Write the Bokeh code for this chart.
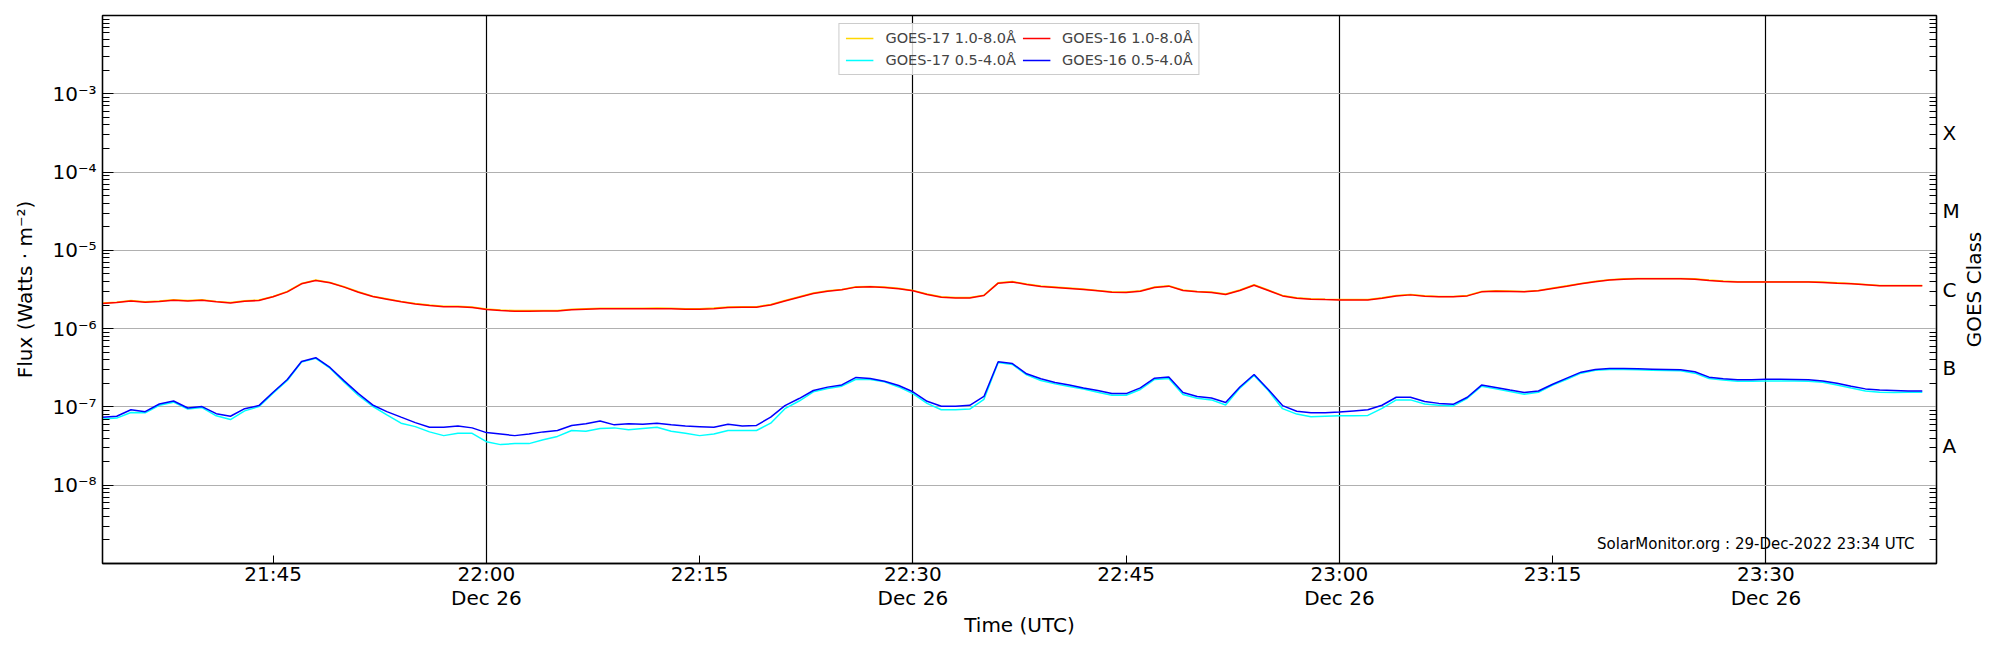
import numpy as np
import pandas as pd
from bokeh.plotting import figure
from bokeh.layouts import row
from bokeh.models import (ColumnDataSource, Range1d, FixedTicker, LogAxis, Legend,
                          LegendItem, Label)
from bokeh.embed import file_html
from bokeh.resources import INLINE

# ---------------- data (1-minute GOES XRS averages, 26 Dec 2022) ----------------
times = pd.date_range("2022-12-26 21:33", periods=129, freq="min")

# GOES-17 1.0-8.0 A  (units of 1e-6 W m^-2)
g17_long = [2.12, 2.18, 2.29, 2.21, 2.25, 2.34, 2.29, 2.34, 2.23, 2.16, 2.27, 2.32, 2.58, 2.99, 3.78, 4.17, 3.89, 3.43, 2.96, 2.60, 2.41, 2.23, 2.10, 2.00, 1.93, 1.93, 1.89, 1.78, 1.73, 1.70, 1.70, 1.71, 1.71,
            1.77, 1.80, 1.82, 1.82, 1.82, 1.82, 1.83, 1.82, 1.80, 1.80, 1.83, 1.89, 1.91, 1.91, 2.04, 2.29, 2.55, 2.85, 3.05, 3.17, 3.43, 3.46, 3.40, 3.27, 3.08, 2.77, 2.55, 2.50, 2.50, 2.68, 3.85, 3.99,
            3.71, 3.50, 3.40, 3.30, 3.20, 3.08, 2.96, 2.93, 3.05, 3.40, 3.53, 3.11, 2.99, 2.93, 2.77, 3.11, 3.63, 3.11, 2.66, 2.48, 2.41, 2.38, 2.36, 2.36, 2.36, 2.48, 2.66, 2.74, 2.64, 2.58, 2.58,
            2.66, 2.99, 3.05, 3.02, 2.99, 3.08, 3.30, 3.53, 3.78, 4.02, 4.22, 4.34, 4.38, 4.38, 4.38, 4.38, 4.34, 4.18, 4.06, 3.98, 3.98, 3.98, 3.98, 3.98, 3.98, 3.94, 3.86, 3.78, 3.67, 3.56, 3.56, 3.56, 3.56]

# GOES-17 0.5-4.0 A  (units of 1e-7 W m^-2)
g17_short = [0.70, 0.72, 0.85, 0.84, 1.05, 1.15, 0.94, 0.98, 0.77, 0.69, 0.89, 1.01, 1.50, 2.18, 3.74, 4.17, 3.13, 2.07, 1.40, 1.02, 0.79, 0.62, 0.56, 0.48, 0.43, 0.46, 0.46, 0.36, 0.33, 0.34, 0.34, 0.38, 0.42,
             0.50, 0.49, 0.53, 0.54, 0.51, 0.53, 0.55, 0.49, 0.46, 0.43, 0.45, 0.50, 0.50, 0.50, 0.62, 0.95, 1.19, 1.56, 1.72, 1.84, 2.26, 2.24, 2.09, 1.80, 1.48, 1.11, 0.92, 0.92, 0.94, 1.25, 3.70, 3.49,
             2.57, 2.18, 1.97, 1.82, 1.69, 1.54, 1.41, 1.41, 1.67, 2.24, 2.31, 1.44, 1.29, 1.23, 1.06, 1.74, 2.52, 1.62, 0.95, 0.81, 0.75, 0.76, 0.77, 0.77, 0.78, 0.96, 1.23, 1.23, 1.09, 1.05, 1.03,
             1.29, 1.84, 1.70, 1.57, 1.45, 1.54, 1.90, 2.26, 2.70, 2.95, 3.01, 3.01, 2.98, 2.95, 2.92, 2.89, 2.70, 2.31, 2.20, 2.13, 2.13, 2.15, 2.15, 2.15, 2.13, 2.07, 1.91, 1.74, 1.60, 1.54, 1.53, 1.54, 1.54]

# GOES-16 1.0-8.0 A  (units of 1e-6 W m^-2)
g16_long = [2.09, 2.15, 2.26, 2.18, 2.22, 2.31, 2.26, 2.31, 2.20, 2.13, 2.24, 2.29, 2.55, 2.95, 3.74, 4.13, 3.85, 3.39, 2.92, 2.57, 2.38, 2.20, 2.07, 1.97, 1.90, 1.90, 1.86, 1.75, 1.70, 1.67, 1.67, 1.68, 1.68,
            1.74, 1.77, 1.79, 1.79, 1.79, 1.79, 1.80, 1.79, 1.77, 1.77, 1.80, 1.86, 1.88, 1.88, 2.01, 2.26, 2.52, 2.81, 3.01, 3.13, 3.39, 3.42, 3.36, 3.23, 3.04, 2.73, 2.52, 2.47, 2.47, 2.65, 3.81, 3.95,
            3.67, 3.46, 3.36, 3.26, 3.16, 3.04, 2.92, 2.89, 3.01, 3.36, 3.49, 3.07, 2.95, 2.89, 2.73, 3.07, 3.59, 3.07, 2.62, 2.45, 2.38, 2.35, 2.33, 2.33, 2.33, 2.45, 2.62, 2.70, 2.60, 2.55, 2.55,
            2.62, 2.95, 3.01, 2.98, 2.95, 3.04, 3.26, 3.49, 3.74, 3.97, 4.17, 4.29, 4.33, 4.33, 4.33, 4.33, 4.29, 4.13, 4.01, 3.93, 3.93, 3.93, 3.93, 3.93, 3.93, 3.89, 3.81, 3.74, 3.63, 3.52, 3.52, 3.52, 3.52]

# GOES-16 0.5-4.0 A  (units of 1e-7 W m^-2)
g16_short = [0.74, 0.76, 0.92, 0.87, 1.09, 1.19, 0.97, 1.01, 0.82, 0.76, 0.95, 1.04, 1.54, 2.24, 3.81, 4.25, 3.19, 2.15, 1.48, 1.06, 0.87, 0.74, 0.63, 0.55, 0.55, 0.57, 0.54, 0.47, 0.45, 0.43, 0.45, 0.48, 0.50,
             0.58, 0.61, 0.66, 0.59, 0.61, 0.60, 0.62, 0.59, 0.57, 0.56, 0.55, 0.60, 0.57, 0.58, 0.74, 1.04, 1.28, 1.62, 1.79, 1.91, 2.38, 2.31, 2.13, 1.88, 1.56, 1.18, 1.02, 1.02, 1.05, 1.36, 3.78, 3.58,
             2.65, 2.29, 2.05, 1.90, 1.75, 1.62, 1.48, 1.48, 1.75, 2.33, 2.42, 1.53, 1.36, 1.30, 1.14, 1.80, 2.60, 1.67, 1.04, 0.88, 0.84, 0.84, 0.86, 0.89, 0.92, 1.05, 1.33, 1.33, 1.17, 1.11, 1.08,
             1.33, 1.90, 1.77, 1.64, 1.53, 1.60, 1.95, 2.33, 2.78, 3.01, 3.10, 3.10, 3.07, 3.04, 3.01, 2.98, 2.81, 2.40, 2.29, 2.22, 2.22, 2.26, 2.26, 2.24, 2.22, 2.15, 2.01, 1.84, 1.70, 1.64, 1.62, 1.60, 1.60]

series_labels = ["GOES-17 1.0-8.0Å", "GOES-17 0.5-4.0Å", "GOES-16 1.0-8.0Å", "GOES-16 0.5-4.0Å"]
series_colors = ["gold", "cyan", "red", "blue"]

flux_ticks = [1e-8, 1e-7, 1e-6, 1e-5, 1e-4, 1e-3]
flux_tick_labels = ["10⁻⁸", "10⁻⁷", "10⁻⁶", "10⁻⁵", "10⁻⁴", "10⁻³"]
grid_decades = [1e-9, 1e-8, 1e-7, 1e-6, 1e-5, 1e-4, 1e-3, 1e-2]
class_ticks = [10 ** -7.5, 10 ** -6.5, 10 ** -5.5, 10 ** -4.5, 10 ** -3.5]
class_labels = ["A", "B", "C", "M", "X"]

time_ticks = ["2022-12-26 21:45", "2022-12-26 22:00", "2022-12-26 22:15", "2022-12-26 22:30",
              "2022-12-26 22:45", "2022-12-26 23:00", "2022-12-26 23:15", "2022-12-26 23:30"]
time_tick_labels = ["21:45", "22:00\nDec 26", "22:15", "22:30\nDec 26",
                    "22:45", "23:00\nDec 26", "23:15", "23:30\nDec 26"]
time_grid = ["2022-12-26 22:00", "2022-12-26 22:30", "2022-12-26 23:00", "2022-12-26 23:30"]

FONT = "DejaVu Sans"
FRAME_H = 548
TOP = 15
BOTTOM = 68

# ---------------- main figure ----------------
src = ColumnDataSource(dict(
    t=times,
    g17_long=np.array(g17_long) * 1e-6,
    g17_short=np.array(g17_short) * 1e-7,
    g16_long=np.array(g16_long) * 1e-6,
    g16_short=np.array(g16_short) * 1e-7,
))

p = figure(frame_width=1834, frame_height=FRAME_H,
           x_axis_type="datetime", y_axis_type="log",
           x_range=Range1d(pd.Timestamp("2022-12-26 21:33"), pd.Timestamp("2022-12-26 23:42")),
           y_range=Range1d(1e-9, 1e-2),
           output_backend="svg", toolbar_location=None,
           min_border_left=102, min_border_right=26, min_border_top=TOP, min_border_bottom=BOTTOM,
           background_fill_color="white", border_fill_color="white")

p.outline_line_color = "black"
p.outline_line_width = 1.3
p.outline_line_alpha = 1.0

def ms(s):
    return pd.Timestamp(s).value / 1e6

# grids
p.xgrid.ticker = FixedTicker(ticks=[ms(s) for s in time_grid])
p.xgrid.grid_line_color = "black"
p.xgrid.grid_line_width = 1.2
p.xgrid.grid_line_alpha = 1.0
p.ygrid.ticker = FixedTicker(ticks=grid_decades)
p.ygrid.grid_line_color = "#b0b0b0"
p.ygrid.grid_line_width = 1.2
p.ygrid.grid_line_alpha = 1.0

minor_log = [k * d for d in grid_decades[:-1] for k in range(2, 10)]

# left axis
ya = p.yaxis[0]
ya.ticker = FixedTicker(ticks=flux_ticks, minor_ticks=minor_log)
ya.major_label_overrides = {v: s for v, s in zip(flux_ticks, flux_tick_labels)}
ya.axis_label = "Flux (Watts · m⁻²)"

# right axis (GOES class letters)
ra = LogAxis(ticker=FixedTicker(ticks=class_ticks, minor_ticks=minor_log))
ra.major_label_overrides = {v: s for v, s in zip(class_ticks, class_labels)}
p.add_layout(ra, "right")

# bottom axis
xa = p.xaxis[0]
tick_ms = [ms(s) for s in time_ticks]
xa.ticker = FixedTicker(ticks=tick_ms)
xa.major_label_overrides = {v: s for v, s in zip(tick_ms, time_tick_labels)}
xa.axis_label = "Time (UTC)"

for ax in [ya, ra, xa]:
    ax.axis_line_color = "black"
    ax.axis_line_width = 1.3
    ax.major_tick_line_color = "black"
    ax.minor_tick_line_color = "black"
    ax.major_tick_out = 0
    ax.minor_tick_out = 0
    ax.major_label_text_font = FONT
    ax.major_label_text_font_size = "20px"
    ax.major_label_text_color = "black"
    ax.axis_label_text_font = FONT
    ax.axis_label_text_font_size = "20px"
    ax.axis_label_text_font_style = "normal"
    ax.axis_label_text_color = "black"

ya.major_tick_in = 11
ya.minor_tick_in = 7
ya.major_label_standoff = 6
ya.axis_label_standoff = 12
ra.major_tick_in = 0
ra.minor_tick_in = 7
ra.major_label_standoff = 6
xa.major_tick_in = 8
xa.minor_tick_in = 0
xa.major_label_standoff = -2
xa.major_label_text_line_height = 1.0
xa.axis_label_standoff = 0

# lines
keys = ["g17_long", "g17_short", "g16_long", "g16_short"]
renderers = []
for k, c in zip(keys, series_colors):
    r = p.line("t", k, source=src, line_color=c, line_width=1.5)
    renderers.append(r)

legend = Legend(items=[LegendItem(label=l, renderers=[r]) for l, r in zip(series_labels, renderers)],
                location="top_center", orientation="vertical", nrows=2,
                label_text_font=FONT, label_text_font_size="14.5px",
                glyph_width=28, glyph_height=14, label_height=14, label_width=130,
                label_standoff=12, spacing=6, padding=6, margin=8,
                border_line_color="#cccccc", border_line_width=1, border_line_alpha=1.0,
                background_fill_color="white", background_fill_alpha=0.8)
p.add_layout(legend)

# annotation
p.add_layout(Label(x=1812, y=20, x_units="screen", y_units="screen",
                   text="SolarMonitor.org : 29-Dec-2022 23:34 UTC",
                   text_font=FONT, text_font_size="15px", text_color="black",
                   text_align="right", text_baseline="middle"))

# ---------------- narrow strip holding the right-hand axis title ----------------
p2 = figure(frame_width=30, frame_height=FRAME_H, x_range=(0, 1), y_range=(0, 1),
            output_backend="svg", toolbar_location=None,
            x_axis_location=None, y_axis_location=None,
            min_border_left=0, min_border_right=0, min_border_top=TOP, min_border_bottom=BOTTOM,
            background_fill_color="white", border_fill_color="white")
p2.outline_line_color = None
p2.grid.visible = False
p2.add_layout(Label(x=11, y=FRAME_H / 2, x_units="screen", y_units="screen",
                    text="GOES Class", angle=90, angle_units="deg",
                    text_font=FONT, text_font_size="20px", text_color="black",
                    text_align="center", text_baseline="middle"))

layout = row(p, p2, spacing=0)
open("out.html", "w").write(file_html(layout, INLINE))
